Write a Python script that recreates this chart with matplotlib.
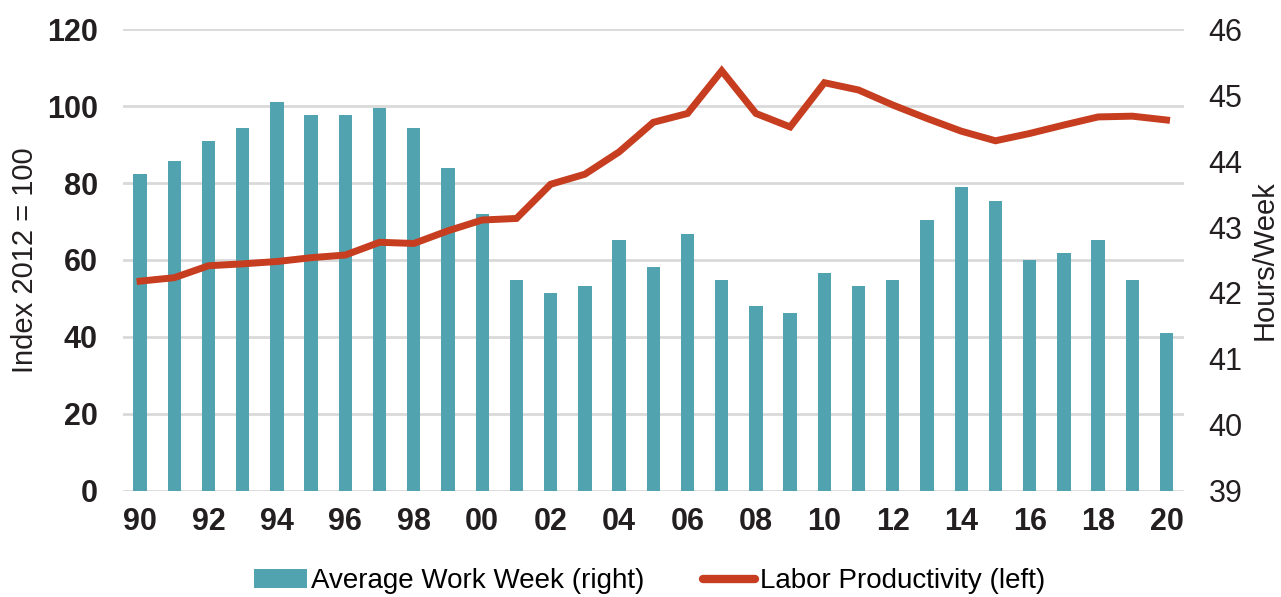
import matplotlib as mpl
mpl.use('Agg')
from matplotlib import pyplot as plt
from matplotlib.patches import Patch
from matplotlib.lines import Line2D
import numpy as np

# %%
# values
years = ['90', '91', '92', '93', '94', '95', '96', '97', '98', '99',
         '00', '01', '02', '03', '04', '05', '06', '07', '08', '09',
         '10', '11', '12', '13', '14', '15', '16', '17', '18', '19', '20']
workWeek = [43.8, 44.0, 44.3, 44.5, 44.9, 44.7, 44.7, 44.8, 44.5, 43.9,
            43.2, 42.2, 42.0, 42.1, 42.8, 42.4, 42.9, 42.2, 41.8, 41.7,
            42.3, 42.1, 42.2, 43.1, 43.6, 43.4, 42.5, 42.6, 42.8, 42.2, 41.4]
productivity = [54.5, 55.4, 58.5, 59.0, 59.6, 60.6, 61.3, 64.6, 64.3, 67.6,
                70.4, 70.8, 79.7, 82.3, 88.1, 95.8, 98.1, 109.2, 98.1, 94.6,
                106.1, 104.2, 100.3, 96.8, 93.5, 91.0, 92.9, 95.1, 97.2, 97.4, 96.4]
leftTicks = [0, 20, 40, 60, 80, 100, 120]
rightTicks = [39, 40, 41, 42, 43, 44, 45, 46]

cBar = '#52A3B0'
cLine = '#C63D1F'
cGrid = '#D9D9D9'
cText = '#231F20'
fSans = ['Liberation Sans', 'DejaVu Sans']

# %%
x = np.arange(len(years))

fig = plt.figure(figsize=(12.81, 5.97), dpi=100)
ax1 = fig.add_axes([0.096, 0.178, 0.828, 0.773])
ax1.set_ylim(0, 120)
ax1.set_yticks(leftTicks)
ax1.grid(axis='y', color=cGrid, linewidth=2)
ax1.set_axisbelow(True)
ax1.set_xlim(-0.5, len(years) - 0.5)

# bars on the right scale
ax2 = ax1.twinx()
ax2.bar(x, workWeek, width=0.39, color=cBar, zorder=2)
ax2.set_ylim(39, 46)
ax2.set_yticks(rightTicks)

# line on top, same scale as left axis
ax3 = ax1.twinx()
ax3.plot(x, productivity, color=cLine, linewidth=5, solid_joinstyle='miter')
ax3.set_ylim(0, 120)
ax3.set_yticks([])

for a in (ax1, ax2, ax3):
    for s in a.spines.values():
        s.set_visible(False)

ax1.set_xticks(x[::2])
ax1.set_xticklabels(years[::2])
ax1.tick_params(axis='x', length=0, colors=cText, pad=12)
ax1.tick_params(axis='y', length=0, colors=cText, pad=18)
for lbl in ax1.get_xticklabels() + ax1.get_yticklabels():
    lbl.set_family(fSans)
    lbl.set_fontweight('bold')
    lbl.set_fontsize(22)

ax2.tick_params(axis='y', length=0, colors=cText, pad=18)
for lbl in ax2.get_yticklabels():
    lbl.set_family(fSans)
    lbl.set_fontsize(22)

ax1.set_ylabel('Index 2012 = 100', fontsize=21, family=fSans, color=cText, labelpad=6)
ax2.set_ylabel('Hours/Week', fontsize=21, family=fSans, color=cText, labelpad=6)

handles = [Patch(facecolor=cBar, edgecolor='none'),
           Line2D([0], [0], color=cLine, linewidth=6, solid_capstyle='round')]
fig.legend(handles, ['Average Work Week (right)', 'Labor Productivity (left)'],
           loc='center', bbox_to_anchor=(0.507, 0.026), ncol=2,
           frameon=False, handlelength=1.9, handletextpad=0.15, columnspacing=2.1,
           prop={'family': fSans, 'size': 20})

plt.savefig('out.png', dpi=100)
